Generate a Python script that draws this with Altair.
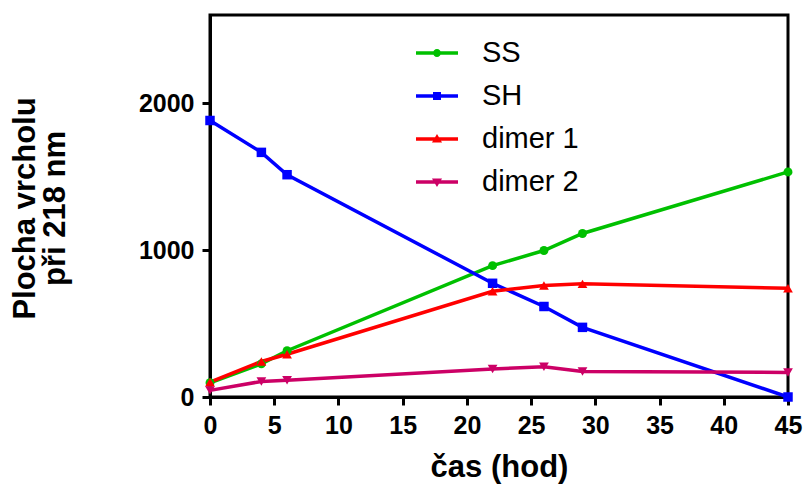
import altair as alt
import pandas as pd

# ---- data ----
time_h = [0, 4, 6, 22, 26, 29, 45]
ss = [97, 226, 315, 894, 997, 1113, 1532]
sh = [1882, 1665, 1513, 774, 616, 474, 0]
dimer1 = [101, 242, 291, 720, 759, 770, 740]
dimer2 = [45, 106, 114, 191, 206, 173, 167]

series_names = ["SS", "SH", "dimer 1", "dimer 2"]
series_values = [ss, sh, dimer1, dimer2]
series_colors = ["#00C000", "#0000FF", "#FF0000", "#CC0066"]
point_shapes = ["circle", "square", "triangle-up", "triangle-down"]
point_sizes = [80, 90, 95, 95]

x_ticks = [0, 5, 10, 15, 20, 25, 30, 35, 40, 45]
y_ticks = [0, 1000, 2000]

# legend symbols: short line with a marker in the middle (unit coords)
LINE = "M-1,-0.085L1,-0.085L1,0.085L-1,0.085Z"
legend_symbols = [
    LINE + "M-0.19,0A0.19,0.19 0 1,1 0.19,0A0.19,0.19 0 1,1 -0.19,0Z",
    LINE + "M-0.19,-0.19L0.19,-0.19L0.19,0.19L-0.19,0.19Z",
    LINE + "M0,-0.24L0.24,0.17L-0.24,0.17Z",
    LINE + "M-0.24,-0.17L0.24,-0.17L0,0.24Z",
]

rows = []
for name, vals in zip(series_names, series_values):
    for t, v in zip(time_h, vals):
        rows.append({"series": name, "t": t, "v": v})
df = pd.DataFrame(rows)

FONT = "Liberation Sans"

common_axis = dict(
    grid=False,
    domain=True,
    domainColor="black",
    domainWidth=3,
    ticks=True,
    tickColor="black",
    tickWidth=3,
    tickSize=8,
    labelFontSize=25,
    labelFontWeight="bold",
    labelFont=FONT,
    labelColor="black",
    labelPadding=8,
    labelFlush=False,
    labelOverlap=False,
    titleFontSize=31,
    titleFontWeight="bold",
    titleFont=FONT,
    titleColor="black",
)

x_enc = alt.X(
    "t:Q",
    scale=alt.Scale(domain=[0, 45], nice=False, zero=False),
    axis=alt.Axis(
        values=x_ticks,
        format="d",
        title="čas (hod)",
        titleBaseline="alphabetic",
        titleY=79,
        **common_axis,
    ),
)
y_enc = alt.Y(
    "v:Q",
    scale=alt.Scale(domain=[0, 2600], nice=False),
    axis=alt.Axis(
        values=y_ticks,
        format="d",
        title=["Plocha vrcholu", "při 218 nm"],
        titleAngle=-90,
        titleAlign="center",
        titleBaseline="middle",
        titleLineHeight=30,
        titleX=-185,
        titleY=193,
        labelBaseline="middle",
        **common_axis,
    ),
)

base = alt.Chart(df)
layers = []
for name, col in zip(series_names, series_colors):
    layers.append(
        base.transform_filter(alt.datum.series == name)
        .mark_line(strokeWidth=3.5, color=col)
        .encode(x=x_enc, y=y_enc)
    )
for name, col, shp, sz in zip(series_names, series_colors, point_shapes, point_sizes):
    layers.append(
        base.transform_filter(alt.datum.series == name)
        .mark_point(filled=True, shape=shp, size=sz, color=col, opacity=1, strokeWidth=0)
        .encode(x=x_enc, y=y_enc)
    )

legend_layer = (
    base.transform_filter("false")
    .mark_point(filled=True, opacity=1)
    .encode(
        x=x_enc,
        y=y_enc,
        color=alt.Color(
            "series:N",
            scale=alt.Scale(domain=series_names, range=series_colors),
            legend=alt.Legend(
                orient="none",
                legendX=206,
                legendY=17,
                title=None,
                labelFont=FONT,
                labelFontSize=29,
                labelColor="black",
                labelOffset=24,
                labelLimit=400,
                symbolSize=1764,
                symbolStrokeWidth=0,
                symbolOpacity=1,
                rowPadding=7,
                padding=0,
            ),
        ),
        shape=alt.Shape(
            "series:N",
            scale=alt.Scale(domain=series_names, range=legend_symbols),
        ),
    )
)
layers.append(legend_layer)

chart = (
    alt.layer(*layers)
    .properties(
        width=578,
        height=382,
        background="white",
        autosize=alt.AutoSizeParams(type="none"),
        padding={"left": 210, "top": 15, "right": 15, "bottom": 87},
    )
    .configure_view(stroke="black", strokeWidth=3)
)

chart.save("out.html", embed_options={"renderer": "svg", "actions": False})
